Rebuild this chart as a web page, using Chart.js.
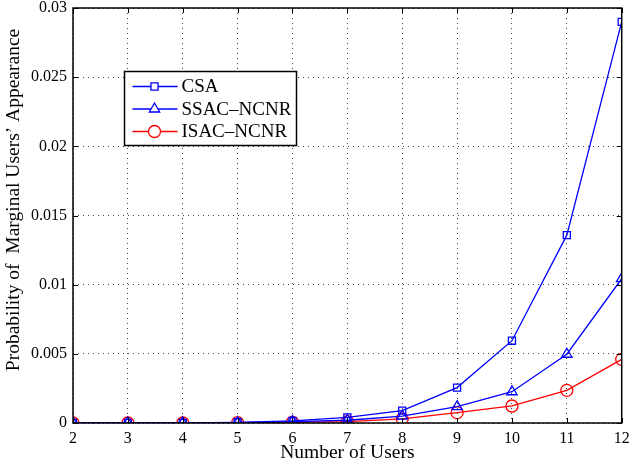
<!DOCTYPE html>
<html>
<head>
<meta charset="utf-8">
<script src="https://cdn.jsdelivr.net/npm/chart.js@4.4.1/dist/chart.umd.min.js"></script>
<style>
  html, body { margin: 0; padding: 0; background: #fff; }
  #wrap { width: 629px; height: 466px; position: relative; }
</style>
</head>
<body>
<div id="wrap"><canvas id="c" width="629" height="466"></canvas></div>
<script>
// Number of users on the x axis
const users = [2, 3, 4, 5, 6, 7, 8, 9, 10, 11, 12];
// Probability of marginal users' appearance per scheme
const csa      = [0, 0, 0.00001, 0.00005, 0.00015, 0.0004, 0.00089, 0.00256, 0.00595, 0.01358, 0.0290];
const ssacNcnr = [0, 0, 0.00001, 0.00003, 0.0001, 0.0002, 0.0005, 0.00118, 0.00226, 0.00497, 0.01043];
const isacNcnr = [0, 0, 0, 0.00002, 0.00005, 0.0001, 0.0003, 0.00075, 0.00123, 0.00236, 0.0046];
const yTicks = [0, 0.005, 0.01, 0.015, 0.02, 0.025, 0.03];
const yTickLabels = ['0', '0.005', '0.01', '0.015', '0.02', '0.025', '0.03'];
const xTitle = 'Number of Users';
const yTitle = 'Probability of  Marginal Users\u2019 Appearance';

const FONT = 'Liberation Serif, Times New Roman, serif';

function pts(arr) { return users.map((u, i) => ({ x: u, y: arr[i] })); }

// Box frame, inward tick marks, y-axis title and an in-plot legend
const framePlugin = {
  id: 'frame',
  afterDraw(chart) {
    const { ctx, chartArea: a, scales } = chart;
    ctx.save();
    ctx.strokeStyle = '#000';
    ctx.lineWidth = 1;
    const tl = 5;
    ctx.beginPath();
    users.forEach(u => {
      const x = Math.round(scales.x.getPixelForValue(u)) + 0.5;
      ctx.moveTo(x, a.bottom); ctx.lineTo(x, a.bottom - tl);
      ctx.moveTo(x, a.top); ctx.lineTo(x, a.top + tl);
    });
    yTicks.forEach(v => {
      const y = Math.round(scales.y.getPixelForValue(v)) + 0.5;
      ctx.moveTo(a.left, y); ctx.lineTo(a.left + tl, y);
      ctx.moveTo(a.right, y); ctx.lineTo(a.right - tl, y);
    });
    ctx.stroke();
    ctx.lineWidth = 1.5;
    ctx.strokeRect(a.left, a.top, a.right - a.left, a.bottom - a.top);

    // y-axis title, rotated
    ctx.save();
    ctx.translate(14, 200);
    ctx.rotate(-Math.PI / 2);
    ctx.font = '19.5px ' + FONT;
    ctx.fillStyle = '#000';
    ctx.textAlign = 'center';
    ctx.textBaseline = 'middle';
    ctx.fillText(yTitle, 0, 0);
    ctx.restore();

    // legend box
    const bx = 124.5, by = 71.5, bw = 172, bh = 74;
    ctx.fillStyle = '#fff';
    ctx.fillRect(bx, by, bw, bh);
    ctx.lineWidth = 1.5;
    ctx.strokeStyle = '#000';
    ctx.strokeRect(bx, by, bw, bh);
    ctx.font = '19px ' + FONT;
    ctx.textBaseline = 'middle';
    chart.data.datasets.forEach((ds, i) => {
      const y = by + 15 + i * 22.5;
      ctx.strokeStyle = ds.borderColor;
      ctx.lineWidth = 1.3;
      ctx.beginPath();
      ctx.moveTo(bx + 8, y); ctx.lineTo(bx + 53, y);
      ctx.stroke();
      ctx.fillStyle = '#fff';
      Chart.helpers.drawPoint(ctx, {
        pointStyle: ds.pointStyle, radius: ds.pointRadius, borderWidth: 1.3
      }, bx + 30, y);
      ctx.fillStyle = '#000';
      ctx.fillText(ds.label, bx + 57, y + 1);
    });
    ctx.restore();
  }
};

new Chart(document.getElementById('c'), {
  type: 'line',
  data: {
    datasets: [
      { label: 'CSA', data: pts(csa), borderColor: '#0000ff', pointStyle: 'rect', pointRadius: 5 },
      { label: 'SSAC\u2013NCNR', data: pts(ssacNcnr), borderColor: '#0000ff', pointStyle: 'triangle', pointRadius: 6 },
      { label: 'ISAC\u2013NCNR', data: pts(isacNcnr), borderColor: '#ff0000', pointStyle: 'circle', pointRadius: 6 }
    ].map(d => Object.assign(d, {
      borderWidth: 1.3,
      pointBorderColor: d.borderColor,
      pointBackgroundColor: 'rgba(0,0,0,0)',
      pointBorderWidth: 1.3,
      tension: 0,
      fill: false
    }))
  },
  options: {
    responsive: false,
    animation: false,
    devicePixelRatio: 1,
    layout: { padding: { top: 8, right: 7, left: 0, bottom: 0 } },
    plugins: { legend: { display: false }, tooltip: { enabled: false } },
    scales: {
      x: {
        type: 'linear', min: 2, max: 12,
        afterBuildTicks(s) { s.ticks = users.map(v => ({ value: v })); },
        afterFit(s) { s.height = 43; s.paddingLeft = 0; s.paddingRight = 0; },
        ticks: { color: '#000', font: { family: FONT, size: 16 }, padding: 6, maxRotation: 0,
                 callback: v => String(v) },
        grid: { color: '#444', drawTicks: false, lineWidth: 1 },
        border: { display: false, dash: [1, 4] },
        title: { display: true, text: xTitle, color: '#000',
                 font: { family: FONT, size: 19.5 }, padding: { top: 0, bottom: 1 } }
      },
      y: {
        type: 'linear', min: 0, max: 0.03,
        afterBuildTicks(s) { s.ticks = yTicks.map(v => ({ value: v })); },
        afterFit(s) { s.width = 73; s.paddingTop = 0; s.paddingBottom = 0; },
        ticks: { color: '#000', font: { family: FONT, size: 16 }, padding: 6,
                 callback: (v) => yTickLabels[yTicks.indexOf(v)] ?? '' },
        grid: { color: '#444', drawTicks: false, lineWidth: 1 },
        border: { display: false, dash: [1, 4] },
        title: { display: false }
      }
    }
  },
  plugins: [framePlugin]
});
</script>
</body>
</html>
